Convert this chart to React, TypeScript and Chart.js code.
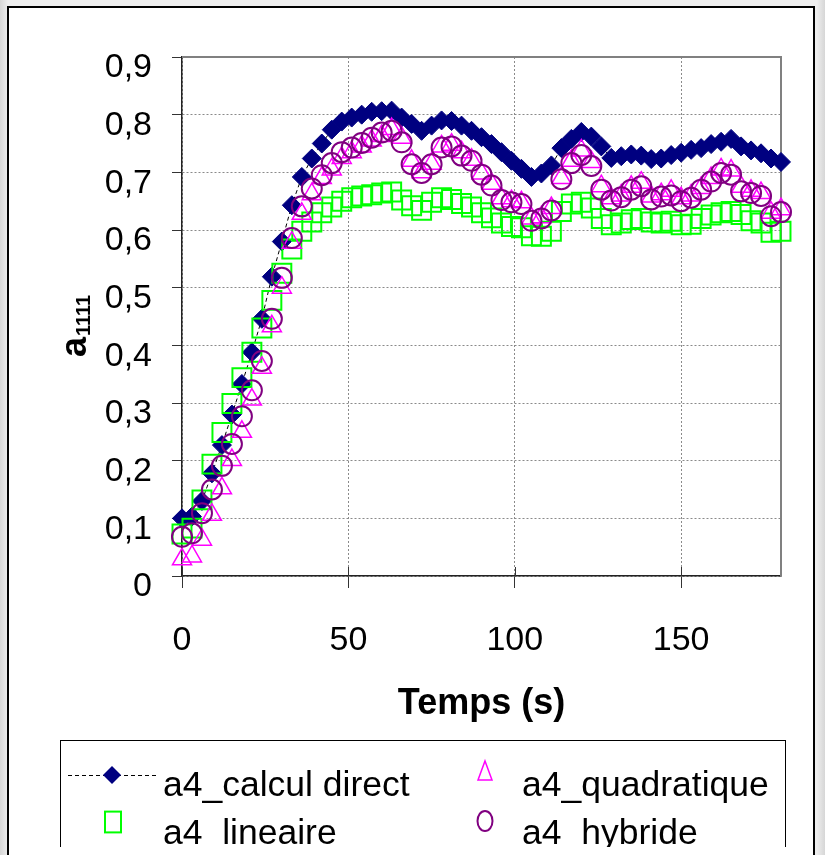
import React, { useEffect, useRef } from 'react';
import { Chart, registerables } from 'chart.js';

Chart.register(...registerables);

// ---- data ----
const times = [
  0, 3, 6, 9, 12, 15, 18, 21, 24, 27, 30, 33, 36, 39, 42, 45, 48, 51, 54, 57,
  60, 63, 66, 69, 72, 75, 78, 81, 84, 87, 90, 93, 96, 99, 102, 105, 108, 111, 114, 117,
  120, 123, 126, 129, 132, 135, 138, 141, 144, 147, 150, 153, 156, 159, 162, 165, 168, 171, 174, 177,
  180,
];

const calculDirect = [
  0.100, 0.103, 0.130, 0.178, 0.227, 0.280, 0.333, 0.388, 0.446, 0.519, 0.580, 0.643, 0.692, 0.724, 0.750, 0.774, 0.788, 0.795, 0.800, 0.805,
  0.806, 0.807, 0.795, 0.784, 0.772, 0.781, 0.790, 0.789, 0.781, 0.772, 0.761, 0.749, 0.735, 0.720, 0.706, 0.692, 0.698, 0.712, 0.742, 0.758,
  0.770, 0.762, 0.745, 0.725, 0.728, 0.731, 0.729, 0.723, 0.724, 0.730, 0.734, 0.739, 0.742, 0.749, 0.753, 0.758, 0.745, 0.738, 0.733, 0.724,
  0.718,
];

const lineaire = [
  0.073, 0.083, 0.132, 0.194, 0.249, 0.299, 0.344, 0.388, 0.430, 0.478, 0.525, 0.567, 0.598, 0.614, 0.630, 0.640, 0.650, 0.656, 0.659, 0.661,
  0.664, 0.666, 0.652, 0.642, 0.634, 0.648, 0.656, 0.653, 0.646, 0.640, 0.630, 0.621, 0.612, 0.606, 0.604, 0.590, 0.589, 0.598, 0.632, 0.645,
  0.648, 0.638, 0.620, 0.609, 0.612, 0.618, 0.620, 0.614, 0.612, 0.615, 0.609, 0.610, 0.620, 0.626, 0.630, 0.632, 0.627, 0.616, 0.612, 0.596,
  0.598,
];

const quadratique = [
  0.029, 0.034, 0.063, 0.106, 0.152, 0.201, 0.250, 0.306, 0.361, 0.433, 0.500, 0.578, 0.628, 0.662, 0.690, 0.705, 0.725, 0.735, 0.745, 0.755,
  0.763, 0.775, 0.760, 0.720, 0.700, 0.715, 0.745, 0.748, 0.735, 0.722, 0.698, 0.680, 0.655, 0.650, 0.648, 0.620, 0.622, 0.638, 0.690, 0.720,
  0.738, 0.718, 0.676, 0.655, 0.660, 0.675, 0.682, 0.658, 0.662, 0.668, 0.655, 0.660, 0.673, 0.690, 0.705, 0.703, 0.675, 0.668, 0.664, 0.630,
  0.636,
];

const hybride = [
  0.068, 0.074, 0.109, 0.150, 0.191, 0.229, 0.277, 0.322, 0.373, 0.446, 0.517, 0.586, 0.641, 0.672, 0.695, 0.716, 0.735, 0.743, 0.751, 0.760,
  0.769, 0.772, 0.752, 0.714, 0.699, 0.714, 0.743, 0.745, 0.729, 0.720, 0.696, 0.677, 0.652, 0.648, 0.645, 0.616, 0.620, 0.634, 0.688, 0.716,
  0.730, 0.711, 0.670, 0.651, 0.657, 0.670, 0.676, 0.653, 0.658, 0.660, 0.650, 0.656, 0.670, 0.684, 0.699, 0.696, 0.667, 0.664, 0.659, 0.624,
  0.631,
];

const xTicks = [0, 50, 100, 150];
const yTicks = [0, 0.1, 0.2, 0.3, 0.4, 0.5, 0.6, 0.7, 0.8, 0.9];

const seriesNames = ['a4_calcul direct', 'a4_lineaire', 'a4_quadratique', 'a4_hybride'];
const xTitle = 'Temps (s)';
const yTitleMain = 'a';
const yTitleSub = '1111';

const FONT = '"Liberation Sans", Arial, Helvetica, sans-serif';

const NAVY = '#000080';
const GREEN = '#00ff00';
const MAGENTA = '#ff00ff';
const PURPLE = '#800080';

function pts(vals: number[]) {
  return times.map((t, i) => ({ x: t, y: vals[i] }));
}

function drawMarker(ctx: CanvasRenderingContext2D, kind: string, x: number, y: number) {
  ctx.save();
  ctx.setLineDash([]);
  if (kind === 'diamond') {
    const r = 9;
    ctx.fillStyle = NAVY;
    ctx.beginPath();
    ctx.moveTo(x, y - r);
    ctx.lineTo(x + r, y);
    ctx.lineTo(x, y + r);
    ctx.lineTo(x - r, y);
    ctx.closePath();
    ctx.fill();
  } else if (kind === 'square') {
    const h = 8;
    ctx.strokeStyle = GREEN;
    ctx.lineWidth = 2;
    ctx.strokeRect(x - h, y - h * 1.3, h * 2, h * 2.6);
  } else if (kind === 'triangle') {
    ctx.strokeStyle = MAGENTA;
    ctx.lineWidth = 1.5;
    ctx.beginPath();
    ctx.moveTo(x, y - 11);
    ctx.lineTo(x + 7, y + 8);
    ctx.lineTo(x - 7, y + 8);
    ctx.closePath();
    ctx.stroke();
  } else if (kind === 'circle') {
    ctx.strokeStyle = PURPLE;
    ctx.lineWidth = 2;
    ctx.beginPath();
    ctx.ellipse(x, y, 7.5, 10, 0, 0, Math.PI * 2);
    ctx.stroke();
  }
  ctx.restore();
}

const extrasPlugin = {
  id: 'extras',
  beforeDatasetsDraw(chart: any) {
    const { ctx, chartArea } = chart;
    const { left, right, top, bottom } = chartArea;
    ctx.save();
    ctx.setLineDash([]);
    // plot area border (top & right, gray)
    ctx.strokeStyle = '#808080';
    ctx.lineWidth = 2;
    ctx.beginPath();
    ctx.moveTo(left, top);
    ctx.lineTo(right, top);
    ctx.lineTo(right, bottom);
    ctx.stroke();
    // inner part of the cross tick marks on x axis
    const xs = chart.scales.x;
    ctx.strokeStyle = '#333';
    ctx.lineWidth = 1;
    xTicks.forEach((v) => {
      const px = Math.round(xs.getPixelForValue(v)) + 0.5;
      ctx.beginPath();
      ctx.moveTo(px, bottom);
      ctx.lineTo(px, bottom - 9);
      ctx.stroke();
    });
    ctx.restore();
  },
  afterDraw(chart: any) {
    const { ctx, chartArea } = chart;
    ctx.save();
    ctx.fillStyle = '#000';
    // x title
    ctx.font = `bold 36px ${FONT}`;
    ctx.textAlign = 'center';
    ctx.textBaseline = 'middle';
    ctx.fillText(xTitle, (chartArea.left + chartArea.right) / 2, 704);
    // y title (rotated, with subscript)
    ctx.save();
    ctx.translate(86, 357);
    ctx.rotate(-Math.PI / 2);
    ctx.textAlign = 'left';
    ctx.textBaseline = 'alphabetic';
    ctx.font = `bold 36px ${FONT}`;
    ctx.fillText(yTitleMain, 0, 0);
    const w = ctx.measureText(yTitleMain).width;
    ctx.font = `bold 20px ${FONT}`;
    ctx.fillText(yTitleSub, w + 1, 4);
    ctx.restore();

    // legend
    ctx.save();
    ctx.beginPath();
    ctx.rect(0, 0, 825, 847);
    ctx.clip();
    ctx.strokeStyle = '#000';
    ctx.lineWidth = 1;
    ctx.setLineDash([]);
    ctx.strokeRect(60.5, 740.5, 725, 140);

    // dashed line sample
    ctx.strokeStyle = '#000';
    ctx.lineWidth = 1;
    ctx.setLineDash([4, 3]);
    ctx.beginPath();
    ctx.moveTo(68, 775.5);
    ctx.lineTo(156, 775.5);
    ctx.stroke();
    ctx.setLineDash([]);

    drawMarker(ctx, 'diamond', 112, 775);
    drawMarker(ctx, 'square', 113, 822);
    drawMarker(ctx, 'triangle', 485, 772);
    drawMarker(ctx, 'circle', 485, 821);

    ctx.fillStyle = '#000';
    ctx.font = `35.5px ${FONT}`;
    ctx.textAlign = 'left';
    ctx.textBaseline = 'alphabetic';
    ctx.fillText(seriesNames[0], 163, 796);
    ctx.fillText(seriesNames[2], 522, 796);
    ctx.fillText(seriesNames[1], 163, 844);
    ctx.fillText(seriesNames[3], 522, 844);
    ctx.restore();

    ctx.restore();
  },
};

export default function App() {
  const ref = useRef<HTMLCanvasElement>(null);

  useEffect(() => {
    const canvas = ref.current;
    if (!canvas) return;
    const tickFont = { family: FONT, size: 34 };
    const chart = new Chart(canvas, {
      type: 'scatter',
      data: {
        datasets: [
          {
            label: seriesNames[0],
            data: pts(calculDirect),
            showLine: true,
            borderColor: '#000',
            borderWidth: 1,
            borderDash: [4, 3],
            pointStyle: 'rectRot',
            pointRadius: 9.5,
            pointBackgroundColor: NAVY,
            pointBorderColor: NAVY,
            pointBorderWidth: 1,
            clip: false,
            order: 4,
          } as any,
          {
            label: seriesNames[1],
            data: pts(lineaire),
            showLine: false,
            pointStyle: 'rect',
            pointRadius: 13.4,
            pointBackgroundColor: 'rgba(0,0,0,0)',
            pointBorderColor: GREEN,
            pointBorderWidth: 2,
            clip: false,
            order: 3,
          } as any,
          {
            label: seriesNames[2],
            data: pts(quadratique),
            showLine: false,
            pointStyle: 'triangle',
            pointRadius: 11,
            pointBackgroundColor: 'rgba(0,0,0,0)',
            pointBorderColor: MAGENTA,
            pointBorderWidth: 1.5,
            clip: false,
            order: 2,
          } as any,
          {
            label: seriesNames[3],
            data: pts(hybride),
            showLine: false,
            pointStyle: 'circle',
            pointRadius: 10,
            pointBackgroundColor: 'rgba(0,0,0,0)',
            pointBorderColor: PURPLE,
            pointBorderWidth: 2,
            clip: false,
            order: 1,
          } as any,
        ],
      },
      options: {
        responsive: false,
        animation: false,
        devicePixelRatio: 1,
        layout: { padding: { left: 0, right: 44, top: 57, bottom: 0 } },
        plugins: {
          legend: { display: false },
          tooltip: { enabled: false },
          title: { display: false },
        },
        scales: {
          x: {
            type: 'linear',
            position: 'bottom',
            min: 0,
            max: 180,
            afterBuildTicks: (s: any) => {
              s.ticks = xTicks.map((v) => ({ value: v }));
            },
            afterFit: (s: any) => {
              s.height = 279;
            },
            ticks: {
              font: tickFont,
              color: '#000',
              padding: 32,
              maxRotation: 0,
              autoSkip: false,
              callback: (v: any) => String(v),
            },
            grid: {
              color: '#8a8a8a',
              lineWidth: 1,
              tickLength: 12,
              tickColor: '#333',
              tickWidth: 1,
            },
            border: { display: true, color: '#222', width: 1.5, dash: [2, 2] },
          },
          y: {
            type: 'linear',
            min: 0,
            max: 0.9,
            afterBuildTicks: (s: any) => {
              s.ticks = yTicks.map((v) => ({ value: v }));
            },
            afterFit: (s: any) => {
              s.width = 182;
            },
            ticks: {
              font: tickFont,
              color: '#000',
              padding: 20,
              labelOffset: 11,
              autoSkip: false,
              callback: (v: any) => String(Math.round(Number(v) * 10) / 10).replace('.', ','),
            },
            grid: {
              color: '#8a8a8a',
              lineWidth: 1,
              tickLength: 10,
              tickColor: '#333',
              tickWidth: 1,
            },
            border: { display: true, color: '#222', width: 1.5, dash: [2, 2] },
          },
        },
      },
      plugins: [extrasPlugin],
    });
    return () => chart.destroy();
  }, []);

  return (
    <div
      style={{
        position: 'fixed',
        left: 0,
        top: 0,
        width: 825,
        height: 855,
        overflow: 'hidden',
        background: 'linear-gradient(90deg, #d6d6d6, #eeeeee 1%, #eeeeee 99%, #d6d6d6)',
      }}
    >
      <div
        style={{
          position: 'absolute',
          left: 7,
          top: 6,
          width: 808,
          height: 900,
          boxSizing: 'border-box',
          border: '2px solid #000',
          background: '#fff',
        }}
      />
      <canvas
        ref={ref}
        width={825}
        height={855}
        style={{ position: 'absolute', left: 0, top: 0, width: 825, height: 855 }}
      />
    </div>
  );
}
